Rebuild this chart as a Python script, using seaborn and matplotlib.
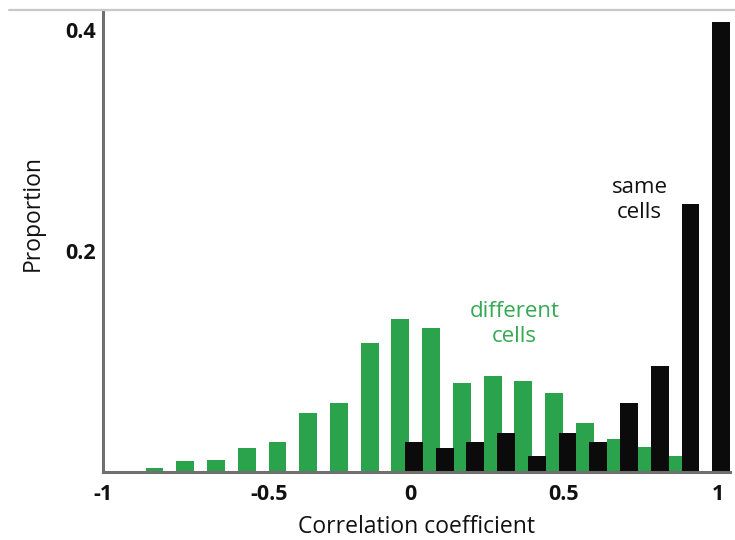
import numpy as np
import pandas as pd
import matplotlib
matplotlib.use("Agg")
import matplotlib.pyplot as plt
from matplotlib.lines import Line2D
from matplotlib.transforms import ScaledTranslation
import seaborn as sns

# Histogram bins (bin centres) and proportions of correlation coefficients
diff_bins = [-0.8, -0.7, -0.6, -0.5, -0.4, -0.3, -0.2, -0.1, 0.0,
             0.1, 0.2, 0.3, 0.4, 0.5, 0.6, 0.7, 0.8, 0.9]
diff_prop = [0.004, 0.010, 0.011, 0.022, 0.027, 0.053, 0.062, 0.117, 0.138,
             0.130, 0.080, 0.087, 0.082, 0.071, 0.044, 0.030, 0.023, 0.014]

same_bins = [0.0, 0.1, 0.2, 0.3, 0.4, 0.5, 0.6, 0.7, 0.8, 0.9, 1.0]
same_prop = [0.027, 0.022, 0.027, 0.035, 0.014, 0.035, 0.027, 0.062, 0.096,
             0.242, 0.407]

x_ticks = [-1, -0.5, 0, 0.5, 1]
x_ticklabels = ["-1", "-0.5", "0", "0.5", "1"]
y_ticks = [0.2, 0.4]
y_ticklabels = ["0.2", "0.4"]

GREEN = "#2ba24c"
BLACK = "#0b0b0b"
AXIS_GREY = "#6f6f6f"
TEXT = "#111111"

sns.set_theme(style="white")
plt.rcParams["font.family"] = ["Open Sans", "DejaVu Sans"]

fig = plt.figure(figsize=(7.35, 5.4), dpi=100)
ax = fig.add_axes([0.140, 0.126, 0.853, 0.856])

# the two groups sit side by side within each bin
diff_df = pd.DataFrame({"x": np.round(np.array(diff_bins) - 0.032, 4), "p": diff_prop})
same_df = pd.DataFrame({"x": np.round(np.array(same_bins) + 0.012, 4), "p": same_prop})

sns.barplot(data=diff_df, x="x", y="p", native_scale=True, width=0.58,
            color=GREEN, saturation=1, errorbar=None, ax=ax, linewidth=0)
sns.barplot(data=same_df, x="x", y="p", native_scale=True, width=0.58,
            color=BLACK, saturation=1, errorbar=None, ax=ax, linewidth=0)

ax.set_xlim(-1.0, 1.04)
ax.set_ylim(0, 0.418)

ax.set_xticks(x_ticks)
ax.set_xticklabels(x_ticklabels, fontweight="bold", fontsize=15.5)
ax.set_yticks(y_ticks)
ax.set_yticklabels(y_ticklabels, fontweight="bold", fontsize=15.5)
ax.tick_params(axis="x", length=0, pad=9, colors=TEXT)
ax.tick_params(axis="y", length=4, width=1.2, direction="inout",
               color=AXIS_GREY, pad=3, labelcolor=TEXT)

# nudge the -0.5 label to the right a little
lbl = ax.get_xticklabels()[1]
lbl.set_transform(lbl.get_transform() + ScaledTranslation(0.13, 0, fig.dpi_scale_trans))

sns.despine(ax=ax)
for side in ("left", "bottom"):
    ax.spines[side].set_color(AXIS_GREY)
    ax.spines[side].set_linewidth(2.2)

ax.set_xlabel("Correlation coefficient", fontsize=16.5, color=TEXT, labelpad=7)
ax.set_ylabel("Proportion", fontsize=16.5, color=TEXT)
ax.yaxis.set_label_coords(-0.092, 0.56)

ax.text(0.746, 0.246, "same\ncells", ha="center", va="center", fontsize=16,
        color=TEXT, linespacing=1.25)
ax.text(0.339, 0.134, "different\ncells", ha="center", va="center", fontsize=16,
        color="#35a853", linespacing=1.25)

# thin grey rule across the top
fig.add_artist(Line2D([9 / 735, 1.0], [1 - 9.5 / 540, 1 - 9.5 / 540],
                      color="#c8c8c8", linewidth=1.6, transform=fig.transFigure))

fig.savefig("out.png", dpi=100)
